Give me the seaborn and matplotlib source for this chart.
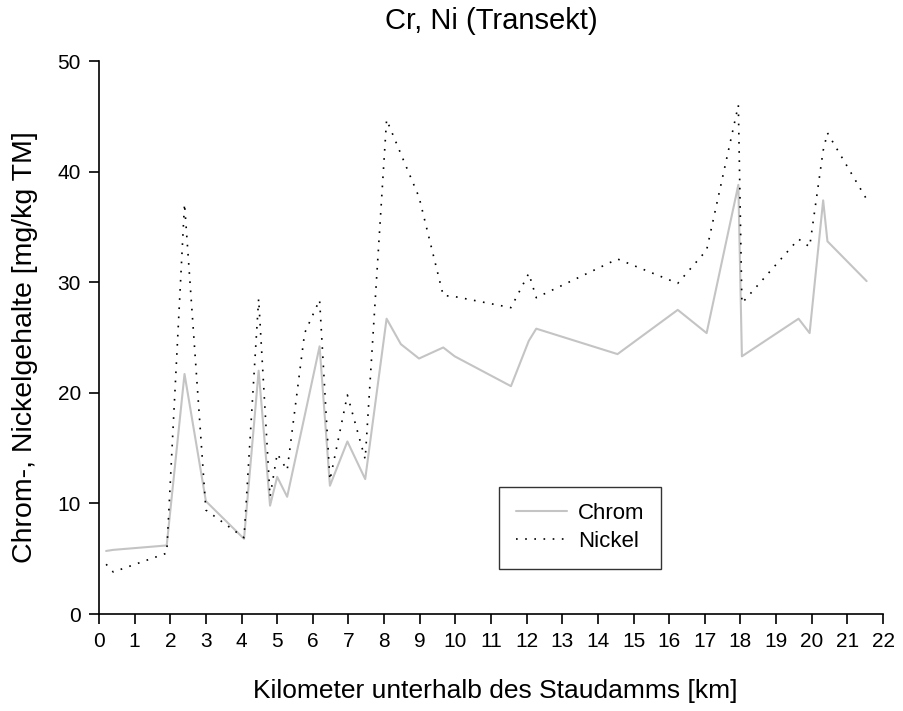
import matplotlib
matplotlib.use("Agg")
import matplotlib.pyplot as plt
import seaborn as sns
import pandas as pd

km = [0.2, 0.4, 1.9, 2.4, 3.0, 4.07, 4.48, 4.8, 5.0, 5.28, 5.77, 6.19, 6.48, 6.97,
      7.47, 8.07, 8.47, 8.98, 9.66, 9.98, 11.56, 12.06, 12.27, 14.55, 16.24, 17.05,
      17.94, 18.04, 19.63, 19.94, 20.32, 20.44, 21.54]
chrom = [5.7, 5.8, 6.2, 21.7, 10.2, 6.8, 22.0, 9.8, 12.4, 10.6, 17.9, 24.2, 11.6, 15.6,
         12.2, 26.7, 24.4, 23.1, 24.1, 23.3, 20.6, 24.7, 25.8, 23.5, 27.5, 25.4,
         38.8, 23.3, 26.7, 25.4, 37.4, 33.7, 30.1]
nickel = [4.5, 3.8, 5.5, 37.1, 9.4, 6.9, 28.5, 10.6, 14.5, 13.0, 25.4, 28.4, 12.1, 19.8,
          14.0, 44.7, 41.6, 37.7, 28.8, 28.7, 27.7, 30.8, 28.6, 32.1, 29.9, 32.9,
          46.0, 28.1, 33.9, 33.2, 41.9, 43.5, 37.5]
x_ticks = list(range(0, 23))
y_ticks = [0, 10, 20, 30, 40, 50]

sns.set_style("ticks")
plt.rcParams['font.family'] = ['Liberation Sans', 'DejaVu Sans']
plt.rcParams['text.color'] = 'black'
plt.rcParams['axes.labelcolor'] = 'black'

df = pd.DataFrame({"km": km, "Chrom": chrom, "Nickel": nickel})

fig = plt.figure(figsize=(9.04, 7.11), dpi=100)
ax = fig.add_axes([0.1095, 0.1364, 0.8673, 0.7778])

sns.lineplot(data=df, x="km", y="Chrom", ax=ax, color="#c4c4c4", linewidth=1.5,
             sort=False, estimator=None, label="Chrom")
sns.lineplot(data=df, x="km", y="Nickel", ax=ax, color="black", linewidth=1.2,
             linestyle=(0, (1, 4.5)), sort=False, estimator=None, label="Nickel")

ax.set_xlim(0, 22)
ax.set_ylim(0, 50)
ax.set_xticks(x_ticks)
ax.set_yticks(y_ticks)
ax.tick_params(axis="both", direction="out", length=7, width=1.2, labelsize=15,
               color="black", labelcolor="black", pad=6)
for s in ["top", "right"]:
    ax.spines[s].set_visible(False)
for s in ["left", "bottom"]:
    ax.spines[s].set_linewidth(1.2)
    ax.spines[s].set_color("black")

ax.set_xlabel("Kilometer unterhalb des Staudamms [km]", fontsize=19, labelpad=20,
              color="black")
ax.xaxis.label.set_x(0.506)
ax.set_ylabel("Chrom-, Nickelgehalte [mg/kg TM]", fontsize=20.5, labelpad=14,
              color="black")
ax.yaxis.label.set_y(0.483)
ax.set_title("Cr, Ni (Transekt)", fontsize=21, pad=23, color="black")

leg = ax.legend(loc="center", bbox_to_anchor=(0.6135, 0.1564), frameon=True,
                fancybox=False, edgecolor="black", fontsize=16, handlelength=2.3,
                borderpad=0.75, labelspacing=0.3, handletextpad=0.5,
                borderaxespad=0)
leg.get_frame().set_linewidth(1.0)
for t in leg.get_texts():
    t.set_color("black")

fig.savefig("out.png", dpi=100, facecolor="white")
